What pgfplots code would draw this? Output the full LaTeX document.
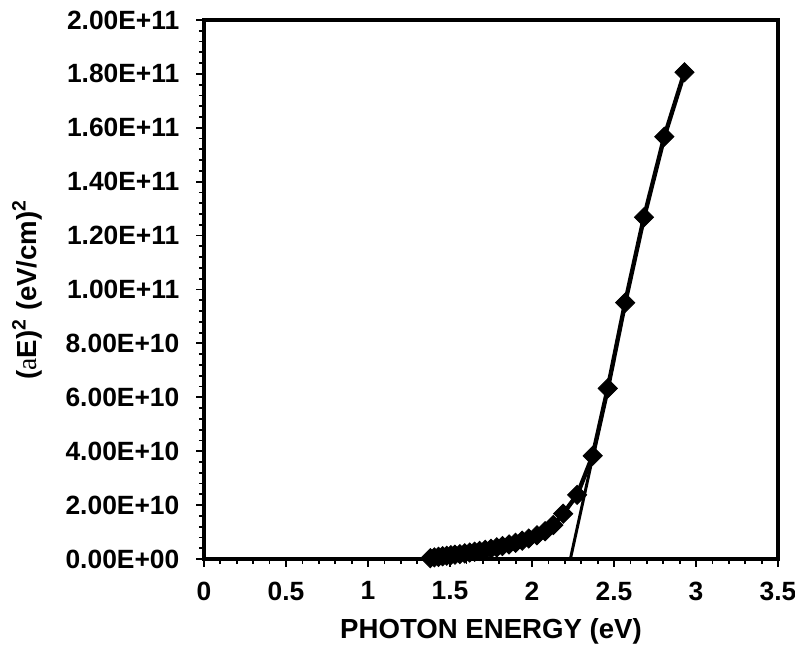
\documentclass[border=0pt]{standalone}
\usepackage{pgfplots}
\pgfplotsset{compat=1.18}
\usepackage{fontspec}
\setmainfont{Liberation Sans}
\newfontfamily\seriffont{Liberation Serif}

% (E [eV], (alpha E)^2 [(eV/cm)^2])
\pgfplotstableread{
E      y
1.380  0.3e9
1.405  0.6e9
1.430  0.8e9
1.455  1.0e9
1.480  1.2e9
1.505  1.4e9
1.530  1.6e9
1.560  1.8e9
1.590  2.1e9
1.620  2.4e9
1.650  2.7e9
1.680  3.0e9
1.715  3.4e9
1.750  3.8e9
1.785  4.3e9
1.820  4.8e9
1.860  5.4e9
1.900  6.0e9
1.940  6.8e9
1.980  7.6e9
2.030  8.8e9
2.080  10.3e9
2.130  12.6e9
2.190  16.8e9
2.275  23.8e9
2.370  38.3e9
2.462  63.3e9
2.568  95.1e9
2.683  126.8e9
2.807  156.7e9
2.930  180.6e9
}\taucdata

\begin{document}
\begin{tikzpicture}
\path[use as bounding box] (-102pt,-48.5pt) rectangle (295.5pt,279.5pt);
\begin{axis}[
    scale only axis,
    width=287pt, height=269.5pt,
    xmin=0, xmax=3.5,
    ymin=0, ymax=2e11,
    axis line style={line width=1.8pt},
    tick pos=left,
    tick align=outside,
    major tick length=3.8pt,
    minor tick length=2.6pt,
    tick style={black, line width=0.9pt},
    xtick={0,0.5,...,3.5},
    xticklabels={0,0.5,1,1.5,2,2.5,3,3.5},
    minor x tick num=4,
    ytick={0,2e10,4e10,6e10,8e10,1e11,1.2e11,1.4e11,1.6e11,1.8e11,2e11},
    yticklabels={0.00E+00,2.00E+10,4.00E+10,6.00E+10,8.00E+10,1.00E+11,1.20E+11,1.40E+11,1.60E+11,1.80E+11,2.00E+11},
    minor y tick num=4,
    scaled y ticks=false,
    ticklabel style={font=\bfseries\fontsize{13.2}{15}\selectfont},
    xticklabel style={yshift=-4pt},
    yticklabel style={xshift=-5pt},
    xlabel={PHOTON ENERGY (eV)},
    ylabel={(\textmd{\seriffont a}E)\textsuperscript{2} (eV/cm)\textsuperscript{2}},
    label style={font=\bfseries\fontsize{13.8}{15}\selectfont},
    xlabel style={at={([yshift=-36pt]rel axis cs:0.5,0)}, anchor=center},
    ylabel style={at={([xshift=-88.5pt]rel axis cs:0,0.5)}, anchor=center},
  ]
  \addplot[black, line width=2.2pt, mark=square*, mark size=3.4pt,
           mark options={rotate=45, line width=0.4pt}]
    table[x=E, y=y] {\taucdata};
  \addplot[black, line width=1.5pt] coordinates {(2.234,0) (2.50,7.38e10)};
\end{axis}
\end{tikzpicture}
\end{document}
